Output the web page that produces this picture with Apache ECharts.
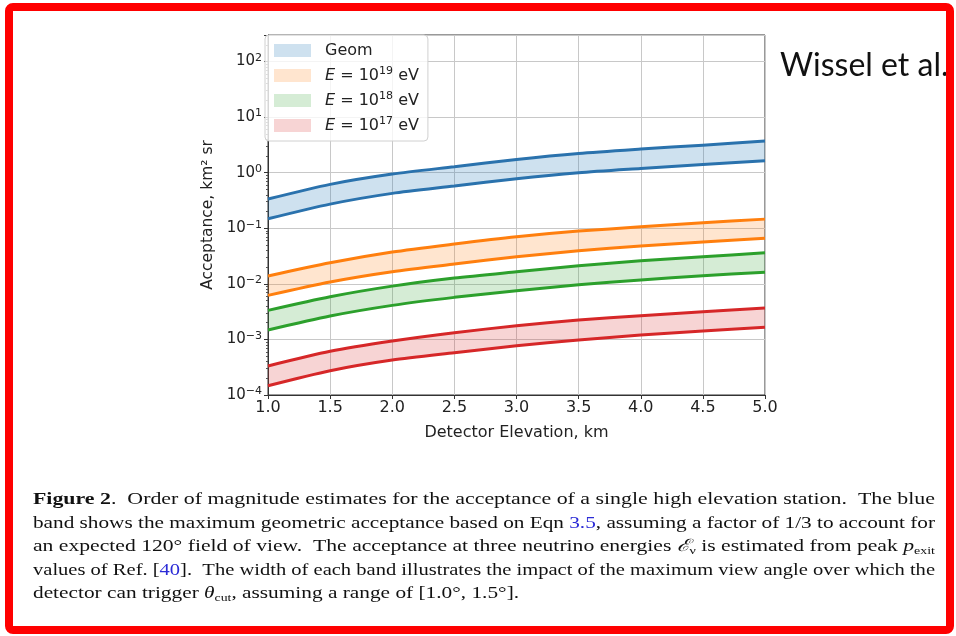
<!DOCTYPE html>
<html>
<head>
<meta charset="utf-8">
<script src="https://cdn.jsdelivr.net/npm/echarts@6/dist/echarts.min.js"></script>
<style>
html, body { margin: 0; padding: 0; background: #fff; }
#main { width: 956px; height: 636px; }
</style>
</head>
<body>
<div id="main"></div>
<script>
// detector elevation, km
var elevation = [1.0, 1.5, 2.0, 2.5, 3.0, 3.5, 4.0, 4.5, 5.0];

// acceptance, km^2 sr (upper / lower edge of each band)
var geomHigh = [0.335, 0.616, 0.944, 1.28, 1.73, 2.22, 2.66, 3.13, 3.70];
var geomLow = [0.148, 0.272, 0.424, 0.574, 0.778, 0.995, 1.19, 1.41, 1.64];
var e19High = [0.0138, 0.0239, 0.0373, 0.052, 0.0703, 0.089, 0.106, 0.1256, 0.146];
var e19Low = [0.0062, 0.0108, 0.0165, 0.0227, 0.0307, 0.0394, 0.0479, 0.0565, 0.0658];
var e18High = [0.00333, 0.00586, 0.0091, 0.0127, 0.0165, 0.0212, 0.026, 0.0307, 0.0362];
var e18Low = [0.00148, 0.00264, 0.0041, 0.00571, 0.0075, 0.00964, 0.0117, 0.014, 0.0161];
var e17High = [0.000333, 0.000611, 0.000935, 0.00132, 0.00176, 0.00223, 0.00267, 0.00315, 0.00367];
var e17Low = [0.000147, 0.000274, 0.000426, 0.000577, 0.00077, 0.00098, 0.0012, 0.00142, 0.00165];

var bandNames = ['Geom', 'E19', 'E18', 'E17'];
var bandLabels = ['Geom', '{i|E} = 10{s|19} eV', '{i|E} = 10{s|18} eV', '{i|E} = 10{s|17} eV'];

var captionLines = [
  [['b', 'Figure 2'], ['n', '.  Order of magnitude estimates for the acceptance of a single high elevation station.  The blue']],
  [['n', 'band shows the maximum geometric acceptance based on Eqn '], ['l', '3.5'], ['n', ', assuming a factor of 1/3 to account for']],
  [['n', 'an expected 120° field of view.  The acceptance at three neutrino energies '], ['i', 'ℰ'], ['s', 'ν'], ['n', ' is estimated from peak '], ['i', 'p'], ['s', 'exit']],
  [['n', 'values of Ref. ['], ['l', '40'], ['n', '].  The width of each band illustrates the impact of the maximum view angle over which the']],
  [['n', 'detector can trigger '], ['i', 'θ'], ['s', 'cut'], ['n', ', assuming a range of [1.0°, 1.5°].']]
];

var colors = ['#2a72ad', '#ff7f0e', '#2ca02c', '#d62728'];
var fills = ['rgba(31,119,180,0.22)', 'rgba(255,127,14,0.2)', 'rgba(44,160,44,0.2)', 'rgba(214,39,40,0.2)'];

var bands = [[geomLow, geomHigh], [e19Low, e19High], [e18Low, e18High], [e17Low, e17High]];

// band fill between the two edges, drawn once as a single polygon
function renderBand(params, api) {
  if (params.dataIndexInside !== 0) return null;
  var n = params.dataInsideLength;
  var top = [], bottom = [];
  for (var j = 0; j < n; j++) {
    var x = api.value(0, j);
    top.push(api.coord([x, api.value(2, j)]));
    bottom.unshift(api.coord([x, api.value(1, j)]));
  }
  return {
    type: 'polygon',
    shape: { points: top.concat(bottom) },
    style: { fill: api.visual('color') }
  };
}

var series = [];
bands.forEach(function (b, k) {
  var low = b[0], high = b[1];
  series.push({
    name: bandNames[k],
    type: 'custom',
    renderItem: renderBand,
    itemStyle: { color: fills[k] },
    z: 1,
    encode: { x: 0, y: [1, 2] },
    data: elevation.map(function (x, i) { return [x, low[i], high[i]]; })
  });
  [low, high].forEach(function (edge, e) {
    series.push({
      name: bandNames[k] + (e ? ' high' : ' low'),
      type: 'line',
      smooth: 0.25,
      symbol: 'none',
      z: 3,
      lineStyle: { color: colors[k], width: 3 },
      itemStyle: { color: colors[k] },
      data: elevation.map(function (x, i) { return [x, edge[i]]; })
    });
  });
});

function powLabel(v) {
  var e = Math.log10(v);
  var r = Math.round(e);
  if (Math.abs(e - r) > 1e-6) return '';
  return '{b|10}{s|' + (r < 0 ? '−' + (-r) : r) + '}';
}

// caption: each line is stretched to the text block width like the justified original
var capFont = '"Liberation Serif", serif';
var capFonts = {
  n: '17px ' + capFont, l: '17px ' + capFont, b: 'bold 17px ' + capFont,
  i: 'italic 17px ' + capFont, s: '11px ' + capFont
};
var ctx = document.createElement('canvas').getContext('2d');
var capWidths = captionLines.map(function (line) {
  return line.reduce(function (w, seg) {
    ctx.font = capFonts[seg[0]];
    return w + ctx.measureText(seg[1]).width;
  }, 0);
});
var capScales = capWidths.map(function (w) { return 902 / w; });
capScales[4] = (capScales[0] + capScales[1] + capScales[2] + capScales[3]) / 4;

var capRich = {
  n: { font: capFonts.n, fill: '#111', lineHeight: 20 },
  l: { font: capFonts.l, fill: '#2b2bd6', lineHeight: 20 },
  b: { font: capFonts.b, fill: '#111', lineHeight: 20 },
  i: { font: capFonts.i, fill: '#111', lineHeight: 20 },
  s: { font: capFonts.s, fill: '#111', lineHeight: 12, verticalAlign: 'bottom' }
};
var capY = [500, 523.5, 547, 570.5, 594];
var graphics = captionLines.map(function (line, k) {
  return {
    type: 'text',
    x: 33,
    y: capY[k],
    scaleX: capScales[k],
    z: 50,
    style: {
      text: line.map(function (seg) { return '{' + seg[0] + '|' + seg[1] + '}'; }).join(''),
      rich: capRich,
      verticalAlign: 'middle',
      align: 'left'
    }
  };
});
graphics.push({
  type: 'text',
  x: 780,
  y: 66,
  z: 50,
  style: { text: 'Wissel et al.', font: '32px Lato', fill: '#111', verticalAlign: 'middle' }
});
graphics.push({
  type: 'rect',
  z: 100,
  shape: { x: 9, y: 7, width: 941, height: 623, r: 4 },
  style: { fill: 'none', stroke: '#ff0000', lineWidth: 8 }
});

var chart = echarts.init(document.getElementById('main'));
chart.setOption({
  animation: false,
  backgroundColor: '#fff',
  grid: { left: 268, right: 191, top: 35, bottom: 241, show: true, borderColor: '#333', borderWidth: 1 },
  legend: {
    left: 265,
    top: 35,
    orient: 'vertical',
    icon: 'rect',
    itemWidth: 37,
    itemHeight: 13,
    itemGap: 6,
    padding: [6, 9, 6, 9],
    backgroundColor: 'rgba(255,255,255,0.8)',
    borderColor: '#d0d0d0',
    borderWidth: 1,
    borderRadius: 4,
    selectedMode: false,
    z: 10,
    formatter: function (name) { return bandLabels[bandNames.indexOf(name)]; },
    textStyle: {
      fontFamily: 'DejaVu Sans', fontSize: 16, color: '#222', lineHeight: 19, padding: [0, 0, 0, 9],
      rich: {
        i: { fontFamily: 'DejaVu Sans', fontSize: 16, fontStyle: 'italic', color: '#222', lineHeight: 19 },
        s: { fontFamily: 'DejaVu Sans', fontSize: 11, color: '#222', lineHeight: 11, verticalAlign: 'top' }
      }
    },
    data: bandNames.map(function (n, k) { return { name: n, itemStyle: { color: fills[k], borderWidth: 0 } }; })
  },
  xAxis: {
    type: 'value',
    min: 1,
    max: 5,
    interval: 0.5,
    name: 'Detector Elevation, km',
    nameLocation: 'middle',
    nameGap: 30,
    nameTextStyle: { fontFamily: 'DejaVu Sans', fontSize: 16, color: '#222' },
    axisLine: { show: true, onZero: false, lineStyle: { color: '#333' } },
    axisTick: { show: true, length: 4, lineStyle: { color: '#333' } },
    axisLabel: { fontFamily: 'DejaVu Sans', fontSize: 16, color: '#222', margin: 5, formatter: function (v) { return v.toFixed(1); } },
    splitLine: { show: true, lineStyle: { color: '#c8c8c8' } }
  },
  yAxis: {
    type: 'log',
    logBase: 10,
    min: 1e-4,
    max: 300,
    name: 'Acceptance, km² sr',
    nameLocation: 'middle',
    nameGap: 52,
    nameTextStyle: { fontFamily: 'DejaVu Sans', fontSize: 15.5, color: '#222' },
    axisLine: { show: true, lineStyle: { color: '#333' } },
    axisTick: { show: true, length: 4, lineStyle: { color: '#333' } },
    minorTick: { show: true, splitNumber: 9, length: 2, lineStyle: { color: '#555' } },
    axisLabel: {
      color: '#222', margin: 6, formatter: powLabel,
      rich: {
        b: { fontFamily: 'DejaVu Sans', fontSize: 15, color: '#222', lineHeight: 18 },
        s: { fontFamily: 'DejaVu Sans', fontSize: 11, color: '#222', lineHeight: 11, verticalAlign: 'top' }
      }
    },
    splitLine: { show: true, lineStyle: { color: '#c8c8c8' } }
  },
  graphic: graphics,
  series: series
});
</script>
</body>
</html>
